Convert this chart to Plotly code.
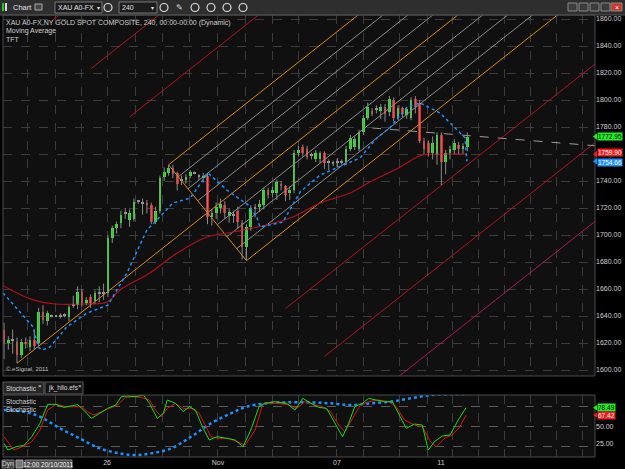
import plotly.graph_objects as go

W, H = 625, 469

# ---------------- data ----------------
opens = [1630,1620,1622,1621,1611,1621,1617,1622,1620,1643,1636,1640,1640,1640,1641,1639,1648,1648,1658,1650,
         1654,1651,1657,1657,1657,1698,1705,1709,1716,1711,1712,1725,1724,1724,1722,1710,1718,1743,1746,1750,
         1746,1741,1741,1744,1746,1744,1742,1744,1713,1716,1720,1722,1714,1715,1718,1709,1691,1706,1720,1721,
         1722,1733,1731,1731,1738,1736,1731,1733,1761,1765,1764,1759,1756,1756,1761,1754,1753,1754,1754,1754,
         1764,1765,1764,1776,1787,1792,1793,1792,1795,1791,1800,1787,1794,1789,1787,1801,1798,1770,1768,1761,
         1760,1774,1754,1761,1763,1767,1764,1765]
highs = [1635,1625,1630,1624,1623,1624,1625,1630,1646,1648,1644,1641,1641,1642,1642,1648,1655,1662,1660,1654,
         1656,1659,1662,1664,1700,1707,1710,1718,1720,1719,1727,1726,1727,1726,1724,1721,1744,1750,1752,1752,
         1747,1744,1745,1748,1747,1745,1746,1746,1719,1724,1727,1725,1720,1718,1721,1711,1708,1722,1723,1726,
         1735,1735,1736,1741,1740,1737,1736,1763,1766,1767,1766,1761,1763,1762,1762,1756,1755,1757,1756,1766,
         1774,1773,1778,1789,1798,1794,1796,1797,1797,1803,1802,1796,1795,1795,1802,1803,1800,1772,1770,1773,
         1776,1776,1763,1766,1771,1769,1768,1776]
lows = [1608,1615,1612,1605,1609,1616,1614,1615,1618,1634,1633,1639,1639,1638,1639,1636,1646,1645,1647,1648,
        1646,1649,1650,1652,1654,1694,1701,1705,1712,1706,1710,1723,1715,1716,1708,1708,1716,1740,1744,1742,
        1733,1737,1738,1742,1745,1741,1739,1708,1707,1712,1716,1712,1709,1709,1705,1682,1681,1703,1713,1717,
        1719,1727,1728,1726,1733,1725,1726,1731,1758,1758,1756,1756,1754,1753,1749,1748,1751,1750,1752,1752,
        1762,1763,1762,1774,1785,1788,1790,1786,1784,1788,1784,1785,1787,1786,1785,1790,1768,1760,1758,1756,
        1752,1737,1745,1756,1760,1760,1760,1762]
closes = [1620,1622,1622,1611,1621,1619,1622,1618,1643,1637,1642,1640,1640,1640,1641,1647,1648,1658,1650,1652,
          1650,1657,1657,1657,1698,1705,1708,1715,1716,1716,1724.5,1725,1724,1722,1710,1718,1742,1747,1750,1745,
          1738,1741,1743,1747,1746,1744,1744,1713,1716,1721,1723,1716,1717,1715,1710,1691,1706,1720,1720,1723,
          1733,1730,1733,1739,1736,1730,1733,1761,1763,1761,1758,1759,1761,1761,1753,1754,1753,1754,1754,1764,
          1772,1771,1776,1787,1795,1790,1793,1795,1790,1801,1787,1794,1790,1793,1800,1795,1770,1764,1761,1768,
          1774,1754,1761,1764,1768,1764,1766,1772.95]
bar_index = list(range(len(closes)))

price_ticks = list(range(1600, 1861, 20))
price_ticks_hidden = [1760]          # covered by the last-value boxes
day_tick_pos = [23.8, 49.4, 76.9, 100.9]
day_tick_text = ["26", "Nov", "07", "11"]
grid_pos = [5.5, 11.8, 17.8, 23.8, 30.3, 36.5, 42.9, 49.4, 55.7, 61.9, 68.1, 76.9, 83.1, 91.4, 97.7, 103.5,
            109.5, 115.5, 121.5, 127.5, 133.5]

blue_ma_x = [-0.2, 6.7, 7.9, 8.8, 10.6, 14.5, 19.2, 24.0, 28.4, 33.0, 35.3, 39.0, 43.0, 46.0, 47.1, 51.5, 56.4, 58.4,
             59.1, 64.4, 68.4, 73.0, 79.2, 82.2, 86.1, 89.1, 93.1, 96.1, 100.7, 104.6, 106.5, 106.9]
blue_ma_y = [1657.0, 1631.9, 1617.0, 1614.8, 1617.0, 1631.9, 1642.2, 1648.1, 1671.9, 1703.7, 1711.1, 1723.7, 1727.4,
             1740.7, 1745.9, 1733.3, 1722.2, 1713.3, 1705.9, 1709.6, 1731.9, 1744.4, 1753.3, 1757.0, 1771.9, 1779.3,
             1794.8, 1797.8, 1790.4, 1777.8, 1771.9, 1754.66]
red_ma_x = [-0.5, 6.7, 11.8, 18.2, 23.8, 26.8, 33.7, 40.0, 46.9, 52.9, 60.7, 66.7, 73.0, 79.9, 84.5, 91.5, 95.4, 96.8, 106.9]
red_ma_y = [1663.0, 1651.9, 1648.9, 1648.9, 1650.4, 1659.3, 1671.9, 1686.7, 1698.5, 1702.2, 1707.4, 1713.3, 1723.7,
            1731.1, 1739.3, 1750.4, 1757.8, 1759.3, 1759.9]

# Andrew's pitchfork pivots (bar index, price) and levels (fraction along B->C)
pivot_a = (3, 1605)
pivot_b = (38, 1752)
pivot_c = (56, 1681)
fork_levels = [-1.5, -1.0, -0.5, 0.0, 0.125, 0.25, 0.375, 0.5, 0.625, 0.75, 0.875, 1.0, 1.5, 2.0, 2.5]
fork_colors = ["#b3121f", "#b3121f", "#b3121f", "#d88a1c", "#8c8c8c", "#8c8c8c", "#8c8c8c", "#d88a1c",
               "#8c8c8c", "#8c8c8c", "#8c8c8c", "#d88a1c", "#b3121f", "#b3121f", "#b0155e"]
fork_end = 140

trend_x = [85.0, 137.0]
trend_y = [1779.3, 1766.0]

stoch_k_x = [0.0, 0.9, 2.8, 4.6, 6.4, 8.3, 10.1, 12.0, 13.8, 15.2, 17.0, 18.4, 20.2, 22.1, 23.9, 25.8, 27.1, 28.5,
             30.4, 32.2, 33.6, 35.4, 36.8, 37.7, 39.6, 41.4, 42.8, 44.2, 46.0, 47.4, 49.2, 51.5, 53.4, 55.2, 57.0,
             58.9, 60.3, 62.6, 65.3, 67.2, 69.0, 70.9, 72.7, 74.5, 76.4, 78.2, 79.6, 81.0, 82.8, 84.2, 86.0, 87.9,
             89.7, 91.1, 92.9, 94.8, 96.6, 98.0, 99.4, 101.2, 103.0, 104.9, 106.7]
stoch_k_y = [25, 15, 20, 22, 35, 55, 83.5, 83.5, 79, 81, 83, 75, 62.5, 70, 77.5, 82.5, 95, 96, 95, 97.5, 85, 62.5,
             70, 90, 85, 72.5, 80, 75, 47.5, 30, 35, 32.5, 30, 20, 45, 80, 85, 87.5, 85, 75, 92.5, 85, 79, 77.5,
             55, 35, 55, 80, 85, 92.5, 90, 87.5, 87.5, 70, 47.5, 54, 52.5, 15, 27.5, 36, 37.5, 60, 78.49]
stoch_d_x = [0.0, 2.3, 4.6, 6.4, 8.3, 10.1, 12.0, 14.3, 16.1, 18.0, 19.3, 20.7, 22.5, 24.4, 26.2, 28.1, 29.9, 31.7,
             33.6, 35.0, 36.3, 37.7, 39.6, 41.4, 43.2, 45.1, 46.5, 47.8, 49.7, 52.0, 53.8, 55.7, 58.0, 59.8, 61.6,
             63.5, 65.8, 67.6, 69.5, 71.8, 73.6, 75.4, 77.3, 78.7, 80.5, 82.3, 84.2, 86.5, 88.8, 90.6, 92.5, 94.8,
             96.6, 98.5, 99.8, 101.7, 103.5, 105.3, 106.7]
stoch_d_y = [35, 15, 21, 27.5, 45, 75, 83.5, 80, 80, 80, 72.5, 67.5, 72.5, 77.5, 82.5, 94, 95, 94, 90, 75, 65, 77.5,
             85, 77.5, 77.5, 70, 52.5, 35, 32.5, 32.5, 27.5, 22.5, 45, 85, 85, 85, 82.5, 77.5, 87.5, 82.5, 80, 72.5,
             52.5, 42.5, 62.5, 82.5, 87.5, 90, 87.5, 80, 60, 52.5, 50, 27.5, 20, 32.5, 37.5, 50, 67.42]
hilo_x = [0.0, 4.6, 8.3, 12.9, 17.5, 22.1, 26.7, 30.4, 34.0, 38.6, 43.2, 47.8, 52.4, 56.1, 60.7, 65.3, 70.9, 75.4,
          80.0, 84.6, 89.2, 93.9, 98.5, 103.0, 107.2]
hilo_y = [75, 72.5, 65, 47.5, 32.5, 17.5, 10, 7.5, 10, 17.5, 35, 55, 70, 80, 85, 86.5, 86.5, 85, 82.5, 85, 87.5,
          92.5, 97.5, 98.5, 98.5]

last_price_labels = [(1772.95, "#22ee22", "#000000", 0), (1759.90, "#ee1c1c", "#ffffff", 1.3),
                     (1754.66, "#1e90ff", "#ffffff", -1.3)]
last_stoch_labels = [(78.49, "#22ee22", "#000000", 0.7), (67.42, "#ee1c1c", "#ffffff", -0.7)]

# ---------------- geometry ----------------
PX_BAR, PX_BAR0 = 4.33, 4.0          # pixel per bar, pixel of bar 0
PX_PRICE, Y1860 = 1.35, 19.0          # pixel per price unit, pixel of 1860
X_L, X_R = 3, 595
Y_T1, Y_B1 = 15, 376
Y_T2, Y_B2 = 395, 457
x_range = [(X_L - PX_BAR0) / PX_BAR, (X_R - PX_BAR0) / PX_BAR]
y_range = [1860 - (Y_B1 - Y1860) / PX_PRICE, 1860 + (Y1860 - Y_T1) / PX_PRICE]
S_PX, S80 = 0.667, 406.7
y2_range = [80 - (Y_B2 - S80) / S_PX, 80 + (S80 - Y_T2) / S_PX]
FONT = "Liberation Sans"


def fx(x):
    return x / W


def fy(y):
    return 1 - y / H


fig = go.Figure()

# pitchfork lines
bx, by = pivot_b
cx, cy = pivot_c
mx, my = (bx + cx) / 2, (by + cy) / 2
slope = (my - pivot_a[1]) / (mx - pivot_a[0])
for f, col in zip(fork_levels, fork_colors):
    if f == 0.5:
        sx, sy = pivot_a
    else:
        sx, sy = bx + f * (cx - bx), by + f * (cy - by)
    fig.add_trace(go.Scatter(x=[sx, fork_end], y=[sy, sy + slope * (fork_end - sx)], mode="lines",
                             line=dict(color=col, width=1), hoverinfo="skip", xaxis="x", yaxis="y"))
fig.add_trace(go.Scatter(x=[bx, cx], y=[by, cy], mode="lines", line=dict(color="#d88a1c", width=1),
                         hoverinfo="skip", xaxis="x", yaxis="y"))

# dashed trend line
fig.add_trace(go.Scatter(x=trend_x, y=trend_y, mode="lines", line=dict(color="#9a9a9a", width=1, dash="dash"),
                         hoverinfo="skip", xaxis="x", yaxis="y"))

# red moving average
fig.add_trace(go.Scatter(x=red_ma_x, y=red_ma_y, mode="lines", line=dict(color="#b0101a", width=1.2, shape="spline"),
                         hoverinfo="skip", xaxis="x", yaxis="y"))

# candle wicks
wx, wy = [], []
for i, hi, lo in zip(bar_index, highs, lows):
    wx += [i, i, None]
    wy += [hi, lo, None]
fig.add_trace(go.Scatter(x=wx, y=wy, mode="lines", line=dict(color="#8a8a8a", width=1), hoverinfo="skip",
                         xaxis="x", yaxis="y"))

# candle bodies
base, height, colors = [], [], []
for o, c in zip(opens, closes):
    lo_b, hi_b = min(o, c), max(o, c)
    if hi_b - lo_b < 0.8:
        colors.append("#9a9a9a")
        base.append((o + c) / 2 - 0.4)
        height.append(0.8)
    else:
        colors.append("#22ee22" if c > o else "#ee1c1c")
        base.append(lo_b)
        height.append(hi_b - lo_b)
fig.add_trace(go.Bar(x=bar_index, y=height, base=base, width=0.62, marker=dict(color=colors, line=dict(width=0)),
                     hoverinfo="skip", xaxis="x", yaxis="y"))

# blue dotted MA
fig.add_trace(go.Scatter(x=blue_ma_x, y=blue_ma_y, mode="lines", line=dict(color="#1e90ff", width=1.5, dash="dot"),
                         hoverinfo="skip", xaxis="x", yaxis="y"))

# stochastic panel
fig.add_trace(go.Scatter(x=hilo_x, y=hilo_y, mode="lines",
                         line=dict(color="#1e90ff", width=2.5, dash="dot", shape="spline"),
                         hoverinfo="skip", xaxis="x2", yaxis="y2"))
fig.add_trace(go.Scatter(x=stoch_d_x, y=stoch_d_y, mode="lines", line=dict(color="#e01010", width=1),
                         hoverinfo="skip", xaxis="x2", yaxis="y2"))
fig.add_trace(go.Scatter(x=stoch_k_x, y=stoch_k_y, mode="lines", line=dict(color="#10e010", width=1),
                         hoverinfo="skip", xaxis="x2", yaxis="y2"))

shapes = []
annotations = []


def rect(x0, y0, x1, y1, fill=None, line=None, lw=1):
    shapes.append(dict(type="rect", xref="paper", yref="paper", x0=fx(x0), y0=fy(y1), x1=fx(x1), y1=fy(y0),
                       fillcolor=fill if fill else "rgba(0,0,0,0)",
                       line=dict(color=line if line else "rgba(0,0,0,0)", width=lw if line else 0), layer="above"))


def text(x, y, s, size=7, color="#d8d8d8", anchor="left", bg=None):
    annotations.append(dict(x=fx(x), y=fy(y), xref="paper", yref="paper", text=s, showarrow=False,
                            xanchor=anchor, yanchor="middle", font=dict(size=size, color=color, family=FONT),
                            bgcolor=bg, borderpad=0))


# toolbar
rect(0, 0, 625, 15, fill="#2e2e2e")
shapes.append(dict(type="line", xref="paper", yref="paper", x0=0, x1=1, y0=fy(15), y1=fy(15),
                   line=dict(color="#555555", width=1)))
rect(2, 3, 4, 11, fill="#22cc22")
rect(5, 3, 7, 11, fill="#dddddd")
text(12, 7.5, "Chart", 7.5, "#e0e0e0")
rect(35, 4, 42, 10, fill="#444444", line="#aaaaaa")
rect(55, 2, 102, 13, fill="#1c1c1c", line="#777777")
text(57, 7.5, "XAU A0-FX", 7, "#e0e0e0")
text(98, 7.5, "▾", 6, "#e0e0e0", "center")
for cxp in [108, 164, 195, 211, 227, 243]:
    shapes.append(dict(type="circle", xref="paper", yref="paper", x0=fx(cxp - 4), x1=fx(cxp + 4), y0=fy(11.5),
                       y1=fy(3.5), line=dict(color="#dddddd", width=1.2)))
rect(119, 2, 157, 13, fill="#1c1c1c", line="#777777")
text(121, 7.5, "240", 7, "#e0e0e0")
text(152, 7.5, "▾", 6, "#e0e0e0", "center")
text(179, 7.5, "✎", 8, "#dddddd", "center")
for xb in [568, 579, 590, 601]:
    rect(xb, 3, xb + 9, 11, fill="#3c3c3c", line="#888888")
rect(611, 3, 622, 11, fill="#c8382c", line="#888888")
text(616.5, 7, "×", 7, "#ffffff", "center")

# frames
rect(X_L, Y_T1, X_R, Y_B1, line="#4a4a4a")
rect(X_L, Y_T2, X_R, Y_B2, line="#4a4a4a")

# header texts
text(5, 23.5, "XAU A0-FX,NY GOLD SPOT COMPOSITE, 240, 00:00-00:00 (Dynamic)", 7, "#cfcfcf")
text(5, 31.5, "Moving Average", 7, "#cfcfcf")
text(5, 39.5, "TFT", 7, "#cfcfcf")
text(5, 369, "© eSignal, 2011", 6, "#bbbbbb")

# tabs
rect(3, 382, 44, 394, fill="#262626", line="#5a5a5a")
text(5, 388, "Stochastic", 6.5, "#dddddd")
text(40, 386, "×", 6, "#dddddd", "center")
rect(45, 382, 83, 394, fill="#141414", line="#5a5a5a")
text(47, 388, "jk_hilo.efs", 6.5, "#dddddd")
text(79.5, 386, "×", 6, "#dddddd", "center")
text(5, 401.5, "Stochastic", 6.5, "#cfcfcf")
text(5, 409.5, "Stochastic", 6.5, "#cfcfcf")

# bottom bar
rect(2, 460, 14, 468, fill="#3a3a3a", line="#777777")
text(8, 464, "Dyn", 6.5, "#e0e0e0", "center")
rect(16, 460, 23, 468, fill="#777777", line="#aaaaaa")
rect(25, 460, 72, 468, fill="#4a4a4a", line="#888888")
text(48.5, 464, "12:00 20/10/2011", 6.5, "#ffffff", "center")

# last value labels
for val, bg, fc, shift in last_price_labels:
    annotations.append(dict(x=fx(597), y=val, xref="paper", yref="y", text=f"{val:.2f}", showarrow=False,
                            xanchor="left", yanchor="middle", bgcolor=bg, borderpad=0, yshift=shift,
                            font=dict(size=6.5, color=fc, family=FONT)))
    shapes.append(dict(type="path", xref="paper", yref="y",
                       path=f"M {fx(593)} {val} L {fx(597)} {val + 2.5} L {fx(597)} {val - 2.5} Z",
                       fillcolor=bg, line=dict(width=0), layer="above"))
for val, bg, fc, shift in last_stoch_labels:
    annotations.append(dict(x=fx(597), y=val, xref="paper", yref="y2", text=f"{val:.2f}", showarrow=False,
                            xanchor="left", yanchor="middle", bgcolor=bg, borderpad=0, yshift=shift,
                            font=dict(size=6.5, color=fc, family=FONT)))
    shapes.append(dict(type="path", xref="paper", yref="y2",
                       path=f"M {fx(593)} {val} L {fx(597)} {val + 4} L {fx(597)} {val - 4} Z",
                       fillcolor=bg, line=dict(width=0), layer="above"))

price_tick_text = ["" if p in price_ticks_hidden else f"{p:.2f}" for p in price_ticks]

grid_col = "#3c3c3c"
fig.update_layout(
    width=W, height=H, margin=dict(l=0, r=0, t=0, b=0),
    paper_bgcolor="#000000", plot_bgcolor="#101010",
    showlegend=False, barmode="overlay", bargap=0,
    font=dict(family=FONT, size=7, color="#d0d0d0"),
    xaxis=dict(domain=[fx(X_L), fx(X_R)], range=x_range, anchor="y", showticklabels=False, showgrid=False,
               zeroline=False, tickvals=[], minor=dict(tickvals=grid_pos, showgrid=True, gridcolor=grid_col,
                                                       griddash="dash", gridwidth=1, ticks="")),
    yaxis=dict(domain=[fy(Y_B1), fy(Y_T1)], range=y_range, side="right", anchor="x", tickvals=price_ticks,
               ticktext=price_tick_text, showgrid=True, gridcolor=grid_col, griddash="dash", zeroline=False,
               ticks="", tickfont=dict(size=7, color="#d0d0d0")),
    xaxis2=dict(domain=[fx(X_L), fx(X_R)], range=x_range, anchor="y2", tickvals=day_tick_pos,
                ticktext=day_tick_text, showgrid=False, zeroline=False, ticks="",
                tickfont=dict(size=7, color="#d0d0d0"),
                minor=dict(tickvals=grid_pos, showgrid=True, gridcolor=grid_col, griddash="dash", gridwidth=1, ticks="")),
    yaxis2=dict(domain=[fy(Y_B2), fy(Y_T2)], range=y2_range, side="right", anchor="x2", tickvals=[25, 50],
                tickformat=".2f", showgrid=False, zeroline=False, ticks="",
                minor=dict(tickvals=[20, 50, 80], showgrid=True, gridcolor="#5a5a5a", griddash="dash", ticks=""),
                tickfont=dict(size=7, color="#d0d0d0")),
    shapes=shapes, annotations=annotations,
)

fig.write_html("out.html")
